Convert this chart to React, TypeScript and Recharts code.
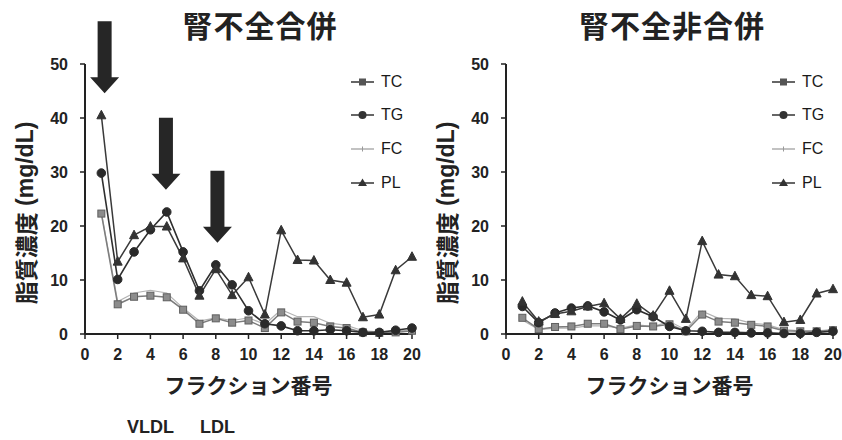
import React from 'react';
import { LineChart, Line, XAxis, YAxis, Legend, ReferenceDot } from 'recharts';

const fractions = [1, 2, 3, 4, 5, 6, 7, 8, 9, 10, 11, 12, 13, 14, 15, 16, 17, 18, 19, 20];
const xTicks = [0, 2, 4, 6, 8, 10, 12, 14, 16, 18, 20];
const yTicks = [0, 10, 20, 30, 40, 50];

// 腎不全合併
const tcWith = [22.3, 5.5, 6.9, 7.1, 6.8, 4.5, 1.9, 2.9, 2.1, 2.5, 1.1, 4.0, 2.3, 2.1, 1.4, 1.1, 0.3, 0.2, 0.3, 0.6];
const tgWith = [29.8, 10.1, 15.2, 19.3, 22.6, 15.2, 8.0, 12.8, 9.1, 4.3, 1.9, 1.5, 0.6, 0.6, 0.8, 0.6, 0.3, 0.3, 0.7, 1.1];
const fcWith = [22.5, 6.0, 7.6, 8.1, 7.6, 4.8, 2.4, 3.0, 2.5, 3.0, 1.8, 4.5, 3.2, 3.2, 2.0, 1.6, 0.6, 0.4, 0.5, 0.8];
const plWith = [40.5, 13.4, 18.3, 19.9, 19.9, 14.0, 7.1, 12.0, 7.2, 10.5, 3.6, 19.2, 13.7, 13.6, 10.0, 9.5, 3.1, 3.6, 11.8, 14.3];

// 腎不全非合併
const tcWithout = [3.0, 0.9, 1.3, 1.4, 1.9, 1.9, 0.9, 1.5, 1.4, 1.8, 0.5, 3.6, 2.3, 2.1, 1.7, 1.4, 0.6, 0.5, 0.5, 0.7];
const tgWithout = [5.1, 2.1, 3.9, 4.8, 5.2, 4.1, 2.6, 4.5, 3.2, 1.4, 0.6, 0.5, 0.3, 0.3, 0.2, 0.2, 0.1, 0.1, 0.3, 0.5];
const fcWithout = [2.6, 0.8, 1.1, 1.1, 1.5, 1.5, 1.1, 1.7, 1.4, 2.3, 0.8, 4.2, 2.9, 2.8, 2.0, 1.7, 0.8, 0.6, 0.6, 0.8];
const plWithout = [6.0, 2.3, 3.7, 4.2, 5.1, 5.7, 2.8, 5.6, 3.4, 8.0, 2.8, 17.2, 11.0, 10.7, 7.2, 7.0, 2.2, 2.6, 7.5, 8.3];

// arrow tips (fraction, mg/dL) on the left panel
const arrowX = [1.2, 4.95, 8.1];
const arrowY = [44.6, 26.7, 16.9];

const seriesNames = ['TC', 'TG', 'FC', 'PL'];

const LATIN = '"Liberation Sans", Arial, sans-serif';
const CJK = '"Noto Sans CJK JP", "Noto Sans", sans-serif';
const INK = '#222';

const square = (fill: string, stroke: string) => (props: any) => {
  const { cx, cy, index } = props;
  if (cx == null || cy == null) return <g key={`sq-${index}`} />;
  return <rect key={`sq-${index}`} x={cx - 3.5} y={cy - 3.5} width={7} height={7} fill={fill} stroke={stroke} strokeWidth={1} />;
};

const circle = (props: any) => {
  const { cx, cy, index } = props;
  if (cx == null || cy == null) return <g key={`ci-${index}`} />;
  return <circle key={`ci-${index}`} cx={cx} cy={cy} r={4.3} fill="#2a2a2a" stroke="#2a2a2a" />;
};

const triangle = (props: any) => {
  const { cx, cy, index } = props;
  if (cx == null || cy == null) return <g key={`tr-${index}`} />;
  return (
    <polygon
      key={`tr-${index}`}
      points={`${cx},${cy - 5} ${cx - 4.5},${cy + 3.5} ${cx + 4.5},${cy + 3.5}`}
      fill="#333"
      stroke="#333"
    />
  );
};

const arrowShape = (props: any) => {
  const { cx, cy } = props;
  const len = 72, head = 16, hw = 14.5, sw = 7;
  const pts = [
    [cx, cy],
    [cx - hw, cy - head],
    [cx - sw, cy - head],
    [cx - sw, cy - len],
    [cx + sw, cy - len],
    [cx + sw, cy - head],
    [cx + hw, cy - head],
  ].map(p => p.join(',')).join(' ');
  return <polygon points={pts} fill="#262626" />;
};

const legendIcon = (name: string) => {
  if (name === 'TC') return <><line x1={0} y1={6} x2={23} y2={6} stroke="#333" strokeWidth={1.5} /><rect x={8} y={2.5} width={7} height={7} fill="#555" /></>;
  if (name === 'TG') return <><line x1={0} y1={6} x2={23} y2={6} stroke="#333" strokeWidth={1.5} /><circle cx={11.5} cy={6} r={4} fill="#333" /></>;
  if (name === 'FC') return <><line x1={0} y1={6} x2={23} y2={6} stroke="#999" strokeWidth={1.2} /><line x1={11.5} y1={3.5} x2={11.5} y2={8.5} stroke="#999" strokeWidth={1} /></>;
  return <><line x1={0} y1={6} x2={23} y2={6} stroke="#333" strokeWidth={1.5} /><polygon points="11.5,1.5 7,9 16,9" fill="#333" /></>;
};

const renderLegend = () => (
  <div>
    {seriesNames.map(name => (
      <div key={name} style={{ height: 33.6, display: 'flex', alignItems: 'center' }}>
        <svg width={26} height={12} style={{ marginRight: 4 }}>{legendIcon(name)}</svg>
        <span style={{ fontFamily: LATIN, fontSize: 16, color: '#1a1a1a', lineHeight: 1 }}>{name}</span>
      </div>
    ))}
  </div>
);

const YLabel = (props: any) => {
  const vb = props.viewBox || { x: 0, y: 0, width: 0, height: 0 };
  const cx = vb.x + 20;
  const cy = vb.y + vb.height / 2 + 14;
  return (
    <text transform={`translate(${cx}, ${cy}) rotate(-90)`} textAnchor="middle" dominantBaseline="central" fill={INK} fontSize={23} fontWeight={700}>
      <tspan fontFamily={CJK}>脂質濃度</tspan>
      <tspan fontFamily={LATIN}> (mg/dL)</tspan>
    </text>
  );
};

const XLabel = (props: any) => {
  const vb = props.viewBox || { x: 0, y: 0, width: 0, height: 0 };
  return (
    <text x={vb.x + vb.width / 2} y={vb.y + 50} textAnchor="middle" dominantBaseline="central" fill={INK} fontSize={21} fontWeight={700} fontFamily={CJK}>
      フラクション番号
    </text>
  );
};

type PanelProps = {
  left: number;
  title: string;
  titleX: number;
  tc: number[];
  tg: number[];
  fc: number[];
  pl: number[];
  arrows?: boolean;
};

function Panel({ left, title, titleX, tc, tg, fc, pl, arrows }: PanelProps) {
  const data = fractions.map((x, i) => ({ x, TC: tc[i], TG: tg[i], FC: fc[i], PL: pl[i] }));
  const tickStyle = { fill: INK, fontSize: 16, fontWeight: 700, fontFamily: LATIN };
  return (
    <div style={{ position: 'absolute', left, top: 0, width: 421, height: 440 }}>
      <div
        style={{
          position: 'absolute', left: titleX - 120, width: 240, top: 4, textAlign: 'center',
          fontFamily: CJK, fontSize: 30, fontWeight: 700, color: INK, lineHeight: '40px', letterSpacing: 1,
        }}
      >
        {title}
      </div>
      <LineChart width={421} height={440} data={data} margin={{ top: 64, right: 9, bottom: 46, left: 5 }}>
        <XAxis
          dataKey="x"
          type="number"
          domain={[0, 20]}
          ticks={xTicks}
          interval={0}
          height={60}
          tick={tickStyle}
          tickSize={5}
          tickMargin={10}
          axisLine={{ stroke: INK, strokeWidth: 2 }}
          tickLine={{ stroke: INK, strokeWidth: 1.5 }}
          label={<XLabel />}
        />
        <YAxis
          type="number"
          domain={[0, 50]}
          ticks={yTicks}
          interval={0}
          width={80}
          tick={tickStyle}
          tickSize={5}
          tickMargin={12}
          axisLine={{ stroke: INK, strokeWidth: 2 }}
          tickLine={{ stroke: INK, strokeWidth: 1.5 }}
          label={<YLabel />}
        />
        <Legend
          layout="horizontal"
          verticalAlign="middle"
          align="center"
          content={renderLegend}
          wrapperStyle={{ left: 351, top: 65, width: 70 }}
        />
        <Line type="linear" dataKey="FC" stroke="#b3b3b3" strokeWidth={1.2} dot={false} isAnimationActive={false} />
        <Line type="linear" dataKey="TC" stroke="#7d7d7d" strokeWidth={1.5} dot={square('#8c8c8c', '#5f5f5f')} isAnimationActive={false} />
        <Line type="linear" dataKey="TG" stroke="#2f2f2f" strokeWidth={1.6} dot={circle} isAnimationActive={false} />
        <Line type="linear" dataKey="PL" stroke="#3a3a3a" strokeWidth={1.5} dot={triangle} isAnimationActive={false} />
        {arrows &&
          arrowX.map((ax, i) => (
            <ReferenceDot key={`arrow-${i}`} x={ax} y={arrowY[i]} ifOverflow="visible" shape={arrowShape} />
          ))}
      </LineChart>
    </div>
  );
}

const bandLabelStyle: React.CSSProperties = {
  position: 'absolute', top: 416, fontFamily: LATIN, fontSize: 18, fontWeight: 700, color: INK, lineHeight: '22px',
};

export default function App() {
  return (
    <div style={{ position: 'absolute', left: 0, top: 0, width: 842, height: 440, background: '#fff', overflow: 'hidden' }}>
      <Panel left={0} title="腎不全合併" titleX={260} tc={tcWith} tg={tgWith} fc={fcWith} pl={plWith} arrows />
      <Panel left={421} title="腎不全非合併" titleX={251} tc={tcWithout} tg={tgWithout} fc={fcWithout} pl={plWithout} />
      <div style={{ ...bandLabelStyle, left: 127 }}>VLDL</div>
      <div style={{ ...bandLabelStyle, left: 200 }}>LDL</div>
    </div>
  );
}
